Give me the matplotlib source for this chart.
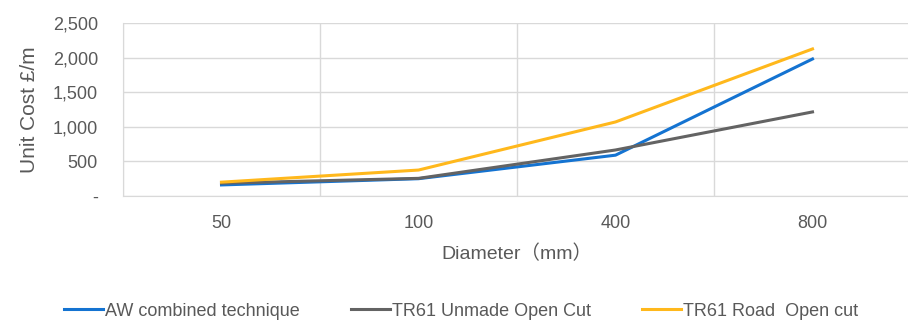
import matplotlib.pyplot as plt

plt.rcParams['font.family'] = ['Liberation Sans', 'Noto Sans CJK SC', 'DejaVu Sans']

diameters = ['50', '100', '400', '800']
aw_combined = [160, 250, 590, 1980]
tr61_unmade = [185, 255, 665, 1215]
tr61_road = [200, 375, 1070, 2125]

blue = '#1473d1'
grey = '#636363'
yellow = '#ffb81c'
text_col = '#595959'
grid_col = '#d9d9d9'

fig = plt.figure(figsize=(9.08, 3.21), dpi=100)
ax = fig.add_axes([123/908, 1 - 196/321, 788/908, 173/321])

x = range(len(diameters))
ax.plot(x, aw_combined, color=blue, lw=2.2, label='AW combined technique')
ax.plot(x, tr61_unmade, color=grey, lw=2.2, label='TR61 Unmade Open Cut')
ax.plot(x, tr61_road, color=yellow, lw=2.2, label='TR61 Road  Open cut')

ax.set_xlim(-0.5, 3.5)
ax.set_ylim(0, 2500)
ax.set_yticks([0, 500, 1000, 1500, 2000, 2500])
ax.set_yticklabels(['-', '500', '1,000', '1,500', '2,000', '2,500'])
ax.set_xticks(list(x))
ax.set_xticklabels(diameters)
ax.set_xticks([-0.5, 0.5, 1.5, 2.5, 3.5], minor=True)

ax.grid(axis='y', color=grid_col, lw=1)
ax.grid(axis='x', which='minor', color=grid_col, lw=1)
ax.set_axisbelow(True)
for s in ['top', 'right']:
    ax.spines[s].set_visible(False)
ax.spines['left'].set_color(grid_col)
ax.spines['bottom'].set_color(grid_col)
ax.tick_params(which='both', length=0, colors=text_col, labelsize=13)
ax.tick_params(axis='x', pad=14)
ax.tick_params(axis='y', pad=18)

ax.set_ylabel('Unit Cost £/m', color=text_col, fontsize=15, labelpad=10)
ax.set_xlabel('Diameter（mm）', color=text_col, fontsize=14, labelpad=9)

leg = fig.legend(loc='center', bbox_to_anchor=(461/908, 1 - 311/321), ncol=3,
                 frameon=False, fontsize=13, handlelength=2.2, handletextpad=0.1,
                 columnspacing=2.8)
for t in leg.get_texts():
    t.set_color(text_col)

fig.savefig('out.png', dpi=100)
